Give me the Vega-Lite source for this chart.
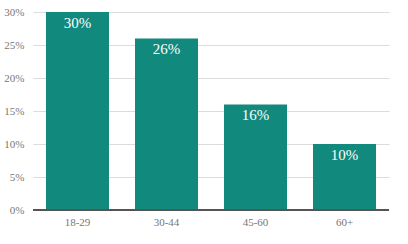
{
  "$schema": "https://vega.github.io/schema/vega-lite/v6.json",
  "width": 356,
  "height": 198,
  "autosize": {"type": "none"},
  "padding": {"left": 33, "top": 12, "right": 19, "bottom": 34},
  "background": "white",
  "config": {"view": {"stroke": null}, "font": "Liberation Serif"},
  "data": {"values": [
    {"age": "18-29", "pct": 30, "label": "30%"},
    {"age": "30-44", "pct": 26, "label": "26%"},
    {"age": "45-60", "pct": 16, "label": "16%"},
    {"age": "60+", "pct": 10, "label": "10%"}
  ]},
  "encoding": {
    "x": {"field": "age", "type": "nominal", "sort": null,
      "scale": {"paddingInner": 0.292, "paddingOuter": 0.146},
      "axis": {"title": null, "labelAngle": 0, "ticks": false, "domain": false, "labelPadding": 6, "labelFont": "Liberation Serif", "labelFontSize": 11, "labelColor": "#777"}},
    "y": {"field": "pct", "type": "quantitative",
      "scale": {"domain": [0, 30]},
      "axis": {"title": null, "values": [0,5,10,15,20,25,30], "labelExpr": "datum.value + '%'", "ticks": false, "domain": false, "labelPadding": 9, "labelFont": "Liberation Serif", "labelFontSize": 11, "labelColor": "#777", "gridColor": "#dcdcdc", "gridWidth": 1}}
  },
  "layer": [
    {"mark": {"type": "bar", "color": "#12897d"}},
    {"mark": {"type": "rule", "color": "#555", "strokeWidth": 1.5}, "encoding": {"x": null, "y": {"datum": 0, "type": "quantitative"}}},
    {"mark": {"type": "text", "color": "white", "baseline": "top", "dy": 4, "font": "Liberation Serif", "fontSize": 15},
     "encoding": {"text": {"field": "label", "type": "nominal"}}}
  ]
}
